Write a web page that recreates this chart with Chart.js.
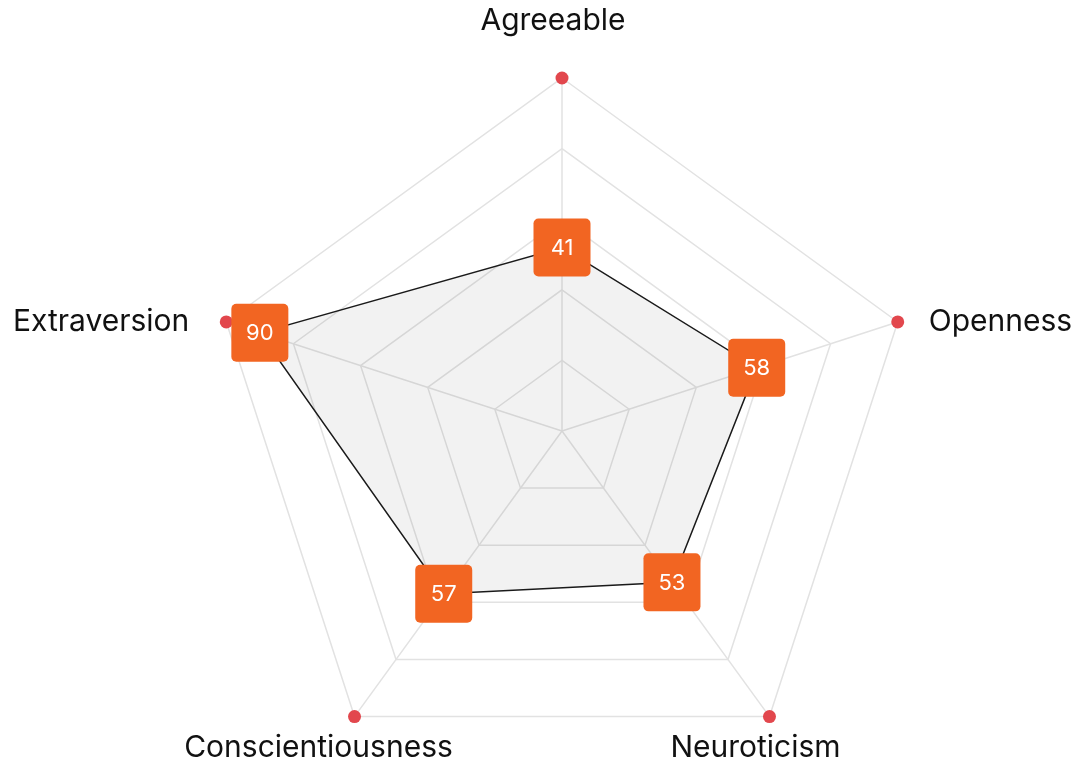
<!DOCTYPE html>
<html>
<head>
<meta charset="utf-8">
<script src="https://cdn.jsdelivr.net/npm/chart.js@4/dist/chart.umd.min.js"></script>
<style>
  html, body { margin: 0; padding: 0; background: #fff; overflow: hidden; }
  #wrap { width: 1080px; height: 800px; }
</style>
</head>
<body>
<div id="wrap"><canvas id="myRadarChart"></canvas></div>
<script>
// traits, clockwise from the top
var traits = ['Agreeable', 'Openness', 'Neuroticism', 'Conscientiousness', 'Extraversion'];
// where the points sit on the grid (Agreeable's point sits near 52 even though its tag reads 41)
var scores = [52, 58, 53, 57, 90];
// numbers printed in the orange tags
var scoreTags = ['41', '58', '53', '57', '90'];
var scaleMin = 0;
var scaleMax = 100;
var scaleStep = 20;

var labelFont = '400 30px Inter';
var tagFont = '400 22px Inter';

// red dots at the end of every spoke
var spokeDots = {
  id: 'spokeDots',
  afterDatasetsDraw: function(chart) {
    var scale = chart.scales.r;
    var ctx = chart.ctx;
    var dist = scale.getDistanceFromCenterForValue(scale.max);
    ctx.save();
    ctx.fillStyle = '#e2474d';
    for (var i = 0; i < traits.length; i++) {
      var p = scale.getPointPosition(i, dist);
      ctx.beginPath();
      ctx.arc(p.x, p.y, 6.5, 0, Math.PI * 2);
      ctx.fill();
    }
    ctx.restore();
  }
};

// orange value tags over the points
var valueTags = {
  id: 'valueTags',
  afterDatasetsDraw: function(chart) {
    var ctx = chart.ctx;
    var meta = chart.getDatasetMeta(0);
    var w = 57, h = 58;
    ctx.save();
    meta.data.forEach(function(pt, i) {
      ctx.fillStyle = '#f26522';
      ctx.beginPath();
      ctx.roundRect(pt.x - w / 2, pt.y - h / 2, w, h, 5);
      ctx.fill();
      ctx.fillStyle = '#ffffff';
      ctx.font = tagFont;
      ctx.textAlign = 'center';
      ctx.textBaseline = 'middle';
      ctx.fillText(scoreTags[i], pt.x, pt.y + 1);
    });
    ctx.restore();
  }
};

// trait names around the web
var traitLabels = {
  id: 'traitLabels',
  afterDraw: function(chart) {
    var scale = chart.scales.r;
    var ctx = chart.ctx;
    ctx.save();
    ctx.font = labelFont;
    ctx.fillStyle = '#111111';
    ctx.textBaseline = 'alphabetic';
    for (var i = 0; i < traits.length; i++) {
      var p = scale.getPointPosition(i, scale.drawingArea);
      var c = Math.cos(p.angle), s = Math.sin(p.angle);
      if (s < -0.9) {
        // top
        ctx.textAlign = 'center';
        ctx.fillText(traits[i], p.x - 9, p.y - 48);
      } else if (Math.abs(c) > 0.9) {
        // left / right
        ctx.textAlign = c > 0 ? 'left' : 'right';
        ctx.fillText(traits[i], p.x + (c > 0 ? 31 : -37), p.y + 9);
      } else {
        // bottom
        ctx.textAlign = 'center';
        ctx.fillText(traits[i], p.x + (c > 0 ? -14 : -36), p.y + 40);
      }
    }
    ctx.restore();
  }
};

var ctx = document.getElementById('myRadarChart');
var myRadarChart = new Chart(ctx, {
  type: 'radar',
  data: {
    labels: traits,
    datasets: [{
      label: 'Scores',
      data: scores,
      backgroundColor: 'rgba(0,0,0,0.05)',
      borderColor: '#1a1a1a',
      borderWidth: 1.5,
      pointRadius: 0,
      pointHoverRadius: 0
    }]
  },
  options: {
    responsive: true,
    maintainAspectRatio: false,
    animation: false,
    layout: {
      padding: { left: 209, right: 165, top: 78, bottom: 16 }
    },
    plugins: {
      legend: { display: false },
      tooltip: { enabled: false }
    },
    scales: {
      r: {
        min: scaleMin,
        max: scaleMax,
        ticks: { display: false, stepSize: scaleStep },
        pointLabels: { display: false },
        grid: { color: '#e2e2e2', lineWidth: 1.5 },
        angleLines: { color: '#e2e2e2', lineWidth: 1.5 }
      }
    }
  },
  plugins: [spokeDots, valueTags, traitLabels]
});
</script>
</body>
</html>
